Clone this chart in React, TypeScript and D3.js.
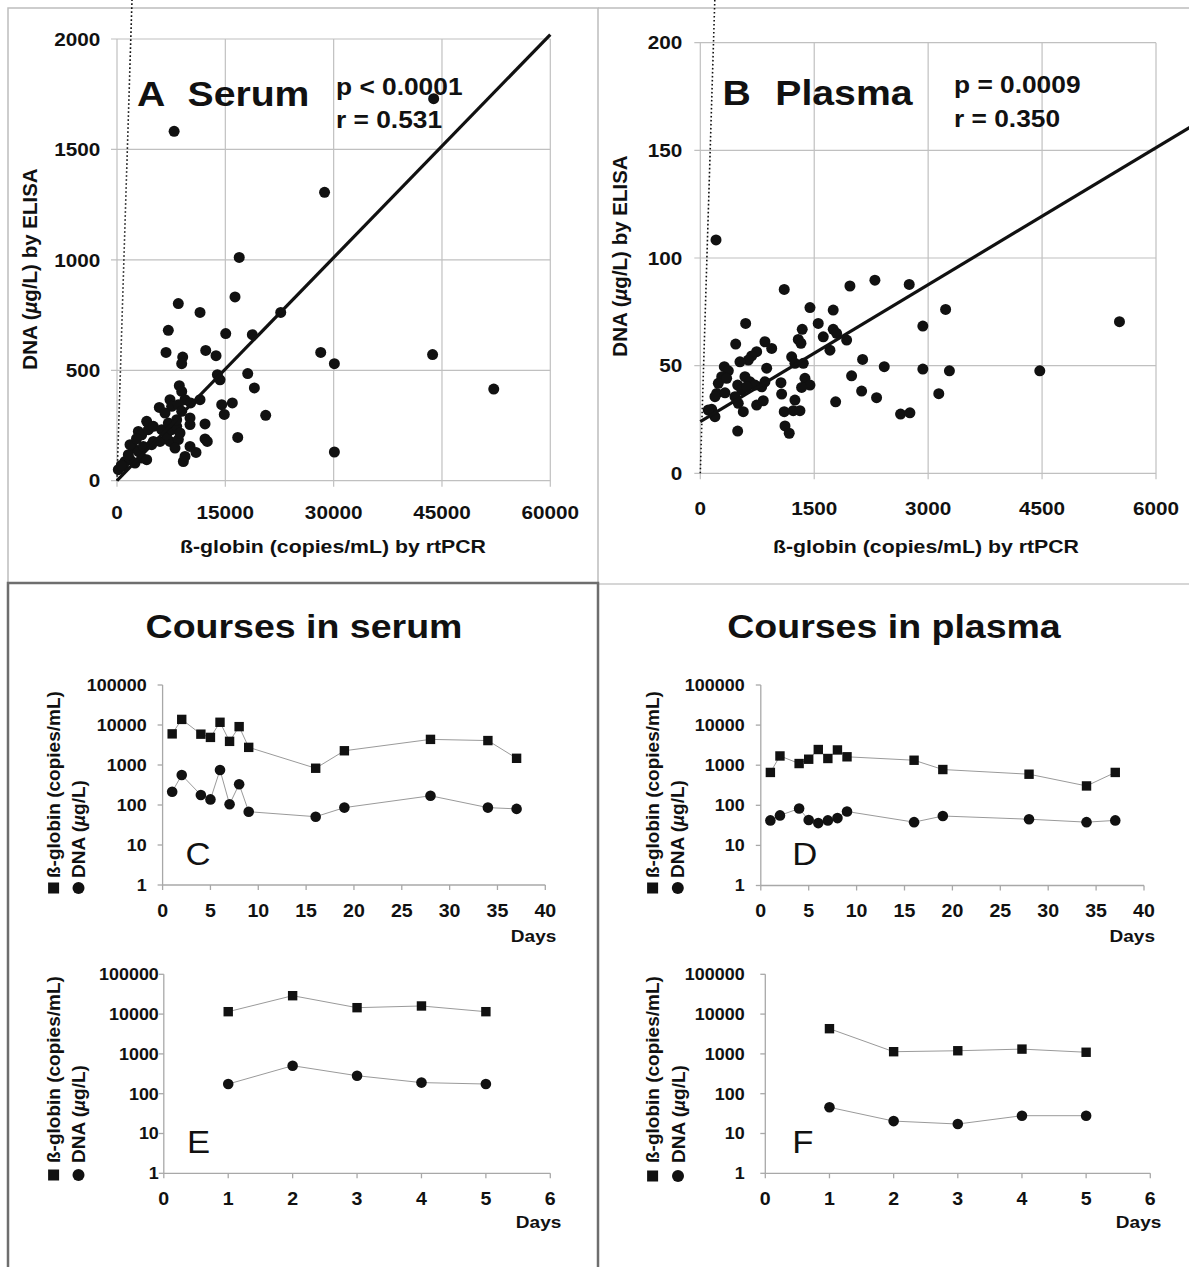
import React from 'react';
import * as d3 from 'd3';

const FONT = "'Liberation Sans', Arial, Helvetica, sans-serif";

// ---------- Panel A (serum scatter) ----------
const serumGlobin = [
  7910, 28740, 16925, 43850, 43700, 52170, 30100, 28212, 30100,
  16343, 8490, 11496, 22672, 7105, 15055, 18740, 6787, 12285, 13712, 9100, 8960,
  13900, 14265, 18100, 19020, 8630, 8960, 5860, 7340, 7570, 9418, 10200, 11496,
  14500, 15970, 14860, 20590, 10110, 12190, 10110, 16720, 12190, 12500,
  9185, 9418, 10940, 10110,
  184, 1108, 1800, 2493, 3417, 4110, 2262, 2955, 3647, 4802, 5956, 7340, 8494,
  2955, 3417, 4340, 4110, 5033, 6187, 6880, 7572, 8263, 8726, 1570, 877, 6648,
  8494, 8957, 5033, 1800, 8033, 7110, 8263, 600, 2700
];
const serumDna = [
  1582, 1306, 1011, 1730, 571, 415, 130, 581, 530,
  832, 802, 762, 762, 681, 666, 661, 581, 590, 566, 560, 530,
  480, 457, 485, 420, 430, 404, 332, 367, 337, 367, 352, 367,
  344, 352, 300, 296, 284, 257, 254, 196, 189, 178,
  87, 110, 128, 155,
  50, 87, 95, 80, 103, 95, 148, 133, 155, 163, 178, 178, 186,
  223, 208, 231, 269, 246, 231, 208, 231, 246, 216, 118, 65, 306,
  344, 314, 178, 163, 148, 261, 276, 70, 190
];
const serumFit = [0, 0.03367]; // intercept, slope
const serumFitRange = [0, 60000];
const serumRefLine = [[0, 0], [2080, 2180]];
const serumXTicks = [0, 15000, 30000, 45000, 60000];
const serumYTicks = [0, 500, 1000, 1500, 2000];

// ---------- Panel B (plasma scatter) ----------
const plasmaGlobin = [
  1105, 1970, 2299, 2751, 3230, 2930, 1444, 1750, 597, 1553, 1342, 1290, 1325,
  1750, 1619, 1707, 1795, 1927, 466, 851, 940, 742, 676, 632, 522, 1203, 1246,
  1356, 2137, 2422, 2930, 3280, 316, 369, 282, 237, 347, 588, 654, 720, 808,
  851, 874, 492, 545, 611, 216, 193, 325, 1062, 1378, 1444, 1334, 1992, 2124,
  2321, 3140, 1071, 1246, 1782, 457, 500, 566, 742, 829, 1105, 1224, 1312,
  2637, 2760, 150, 193, 105, 492, 1115, 1171, 207, 5519, 4470
];
const plasmaDna = [
  85.4, 87, 89.7, 87.7, 76.1, 68.4, 77, 75.8, 69.6, 69.6, 66.9, 62.2, 60.4,
  66.9, 63.4, 57.2, 65, 61.9, 60, 61.1, 58, 56.5, 54.5, 52.6, 51.8, 54.1, 51.1,
  51.1, 52.9, 49.5, 48.4, 47.6, 49.5, 47.6, 44.9, 41.8, 44.1, 44.9, 42.5, 41, 40.2,
  42.5, 48.8, 41, 38.7, 40.2, 37.1, 35.6, 37.4, 42.1, 44.1, 41, 39.9, 45.3, 38.2,
  35.1, 37, 36.8, 34, 33.2, 35.6, 32.5, 28.6, 31.7, 33.7, 28.6, 29.1, 29.1,
  27.5, 28.1, 29.7, 26.3, 29.4, 19.6, 22, 18.6, 108.4, 70.4, 47.6
];
const plasmaFit = [24, 0.0212];
const plasmaFitRange = [0, 6700];
const plasmaRefLine = [[0, 0], [191, 220]];
const plasmaXTicks = [0, 1500, 3000, 4500, 6000];
const plasmaYTicks = [0, 50, 100, 150, 200];

// ---------- Panels C-F (courses) ----------
const longDays = [1, 2, 4, 5, 6, 7, 8, 9, 16, 19, 28, 34, 37];
const globinC = [6000, 13800, 5900, 4900, 11700, 3900, 9100, 2760, 830, 2270, 4370, 4080, 1470];
const dnaC = [215, 560, 178, 138, 750, 104, 330, 68, 51, 86, 170, 86, 80];
const globinD = [660, 1700, 1100, 1410, 2460, 1470, 2400, 1620, 1330, 780, 596, 304, 660];
const dnaD = [42, 56, 83, 43, 36, 42, 48, 70, 38, 54, 45, 38, 42];
const shortDays = [1, 2, 3, 4, 5];
const globinE = [11500, 29000, 14500, 16000, 11500];
const dnaE = [175, 505, 283, 190, 175];
const globinF = [4300, 1135, 1200, 1320, 1100];
const dnaF = [45.5, 20.5, 17.3, 28, 28];
const logTicks = [1, 10, 100, 1000, 10000, 100000];
const longDayTicks = [0, 5, 10, 15, 20, 25, 30, 35, 40];
const shortDayTicks = [0, 1, 2, 3, 4, 5, 6];

const SX = 1.12;

function T({ x, y, size, anchor = 'start', weight = 'bold', sx = SX, children, fill = '#111' }: any) {
  return (
    <text
      transform={`translate(${x},${y}) scale(${sx},1)`}
      fontSize={size}
      fontWeight={weight}
      textAnchor={anchor}
      fontFamily={FONT}
      fill={fill}
    >
      {children}
    </text>
  );
}

function VT({ x, y, size, anchor = 'start', children }: any) {
  return (
    <text
      transform={`translate(${x},${y}) rotate(-90)`}
      fontSize={size}
      fontWeight="bold"
      textAnchor={anchor}
      fontFamily={FONT}
      dy="0.35em"
      fill="#111"
    >
      {children}
    </text>
  );
}

function Scatter({ xs, ys, xDom, xRange, yDom, yRange, xTicks, yTicks, fit, fitRange, refLine,
  yLabelRight, xLabelBase, titleX, yTitleX, yTitleY, panel, name, nameX, pText, rText, pX, pBase, rBase, letterX, letterBase }: any) {
  const x = d3.scaleLinear().domain(xDom).range(xRange);
  const y = d3.scaleLinear().domain(yDom).range(yRange);
  const grid = '#c0c0c0';
  const fitLine = d3.line<number>().x((d) => x(d)).y((d) => y(fit[0] + fit[1] * d));
  const refL = d3.line<number[]>().x((d) => x(d[0])).y((d) => y(d[1]));
  return (
    <g>
      {yTicks.map((t: number) => (
        <line key={'h' + t} x1={xRange[0] - 6} x2={xRange[1]} y1={y(t)} y2={y(t)} stroke={grid} strokeWidth={1.2} />
      ))}
      {xTicks.map((t: number) => (
        <line key={'v' + t} x1={x(t)} x2={x(t)} y1={yRange[1]} y2={yRange[0] + 6} stroke={grid} strokeWidth={1.2} />
      ))}
      {yTicks.map((t: number) => (
        <T key={'yl' + t} x={yLabelRight} y={y(t) + 6.7} size={18.5} anchor="end">{t}</T>
      ))}
      {xTicks.map((t: number) => (
        <T key={'xl' + t} x={x(t)} y={xLabelBase} size={18.5} anchor="middle">{t}</T>
      ))}
      <T x={titleX} y={553} size={19} anchor="middle">ß-globin (copies/mL) by rtPCR</T>
      <VT x={yTitleX} y={yTitleY} size={20.5} anchor="middle">
        DNA (<tspan fontStyle="italic">µ</tspan>g/L) by ELISA
      </VT>
      <path d={refL(refLine) || ''} stroke="#111" strokeWidth={1.6} strokeDasharray="1.6,2.4" fill="none" />
      {xs.map((v: number, i: number) => (
        <circle key={i} cx={x(v)} cy={y(ys[i])} r={5.5} fill="#111" />
      ))}
      <path d={fitLine(fitRange) || ''} stroke="#111" strokeWidth={3.2} fill="none" />
      <T x={letterX} y={letterBase} size={35}>{panel}</T>
      <T x={nameX} y={letterBase} size={35}>{name}</T>
      <T x={pX} y={pBase} size={23.5}>{pText}</T>
      <T x={pX} y={rBase} size={23.5}>{rText}</T>
    </g>
  );
}

function Course({ days, globin, dna, xDom, xRange, yRange, dayTicks, yLabelRight, xLabelBase, daysBase, letter, letterX, letterBase, colSq, colCi, markerY, textStart }: any) {
  const x = d3.scaleLinear().domain(xDom).range(xRange);
  const y = d3.scaleLog().domain([1, 100000]).range(yRange);
  const axis = '#a8a8a8';
  const ln = d3.line<number>().x((d, i) => x(days[i])).y((d) => y(d));
  return (
    <g>
      <line x1={xRange[0]} x2={xRange[0]} y1={yRange[1]} y2={yRange[0]} stroke={axis} strokeWidth={1.3} />
      <line x1={xRange[0]} x2={xRange[1]} y1={yRange[0]} y2={yRange[0]} stroke={axis} strokeWidth={1.3} />
      {logTicks.map((t) => (
        <line key={'yt' + t} x1={xRange[0] - 5} x2={xRange[0]} y1={y(t)} y2={y(t)} stroke={axis} strokeWidth={1.3} />
      ))}
      {dayTicks.map((t: number) => (
        <line key={'xt' + t} x1={x(t)} x2={x(t)} y1={yRange[0]} y2={yRange[0] + 5} stroke={axis} strokeWidth={1.3} />
      ))}
      {logTicks.map((t) => (
        <T key={'yl' + t} x={yLabelRight} y={y(t) + 5.8} size={16} anchor="end">{t}</T>
      ))}
      {dayTicks.map((t: number) => (
        <T key={'xl' + t} x={x(t)} y={xLabelBase} size={17.5} anchor="middle">{t}</T>
      ))}
      <T x={xRange[1] + 11} y={daysBase} size={17} anchor="end">Days</T>
      <T x={letterX} y={letterBase} size={31} weight="normal" anchor="middle">{letter}</T>
      <path d={ln(globin) || ''} stroke="#9a9a9a" strokeWidth={1} fill="none" />
      <path d={ln(dna) || ''} stroke="#9a9a9a" strokeWidth={1} fill="none" />
      {globin.map((v: number, i: number) => (
        <rect key={'s' + i} x={x(days[i]) - 4.7} y={y(v) - 4.7} width={9.4} height={9.4} fill="#111" />
      ))}
      {dna.map((v: number, i: number) => (
        <circle key={'c' + i} cx={x(days[i])} cy={y(v)} r={5.3} fill="#111" />
      ))}
      <rect x={colSq - 5.5} y={markerY - 5.5} width={11} height={11} fill="#111" />
      <circle cx={colCi} cy={markerY} r={6} fill="#111" />
      <VT x={colSq} y={textStart} size={19}>ß-globin (copies/mL)</VT>
      <VT x={colCi} y={textStart} size={19}>
        DNA (<tspan fontStyle="italic">µ</tspan>g/L)
      </VT>
    </g>
  );
}

export default function App() {
  return (
    <svg width={1189} height={1267} style={{ position: 'absolute', left: 0, top: 0, display: 'block', background: '#fff' }}>
      <rect x={0} y={0} width={1189} height={1267} fill="#fff" />
      {/* frames */}
      <rect x={8} y={8} width={590} height={575} fill="none" stroke="#bdbdbd" strokeWidth={1.5} />
      <line x1={598} x2={1189} y1={8} y2={8} stroke="#bdbdbd" strokeWidth={1.5} />
      <line x1={598} x2={1189} y1={584} y2={584} stroke="#c8c8c8" strokeWidth={1.5} />
      <rect x={8} y={583} width={590} height={700} fill="none" stroke="#6e6e6e" strokeWidth={2.5} />

      <Scatter xs={serumGlobin} ys={serumDna} xDom={[0, 60000]} xRange={[117, 550.3]} yDom={[0, 2000]} yRange={[480.7, 39]}
        xTicks={serumXTicks} yTicks={serumYTicks} fit={serumFit} fitRange={serumFitRange} refLine={serumRefLine}
        yLabelRight={100.3} xLabelBase={519} titleX={333} yTitleX={30} yTitleY={269}
        panel="A" name="Serum" letterX={137} nameX={187.5} letterBase={106}
        pText="p < 0.0001" rText="r = 0.531" pX={336} pBase={95} rBase={128} />
      <Scatter xs={plasmaGlobin} ys={plasmaDna} xDom={[0, 6000]} xRange={[700.3, 1156]} yDom={[0, 200]} yRange={[473.3, 42.7]}
        xTicks={plasmaXTicks} yTicks={plasmaYTicks} fit={plasmaFit} fitRange={plasmaFitRange} refLine={plasmaRefLine}
        yLabelRight={682.3} xLabelBase={515} titleX={926} yTitleX={620} yTitleY={256}
        panel="B" name="Plasma" letterX={722.5} nameX={775.3} letterBase={105}
        pText="p = 0.0009" rText="r = 0.350" pX={954} pBase={93} rBase={126.7} />

      <T x={304} y={638} size={33.5} anchor="middle">Courses in serum</T>
      <T x={894} y={638} size={33.5} anchor="middle">Courses in plasma</T>

      <Course days={longDays} globin={globinC} dna={dnaC} xDom={[0, 40]} xRange={[162.6, 545.3]} yRange={[885, 685]}
        dayTicks={longDayTicks} yLabelRight={146.6} xLabelBase={917.3} daysBase={941.7}
        letter="C" letterX={198} letterBase={865} colSq={53.6} colCi={78.5} markerY={888} textStart={878} />
      <Course days={longDays} globin={globinD} dna={dnaD} xDom={[0, 40]} xRange={[760.8, 1144]} yRange={[885.5, 685]}
        dayTicks={longDayTicks} yLabelRight={744.6} xLabelBase={917.3} daysBase={941.7}
        letter="D" letterX={804.7} letterBase={865} colSq={652.6} colCi={677.8} markerY={888} textStart={878} />
      <Course days={shortDays} globin={globinE} dna={dnaE} xDom={[0, 6]} xRange={[163.8, 550.3]} yRange={[1173.3, 974.3]}
        dayTicks={shortDayTicks} yLabelRight={158.8} xLabelBase={1205} daysBase={1228}
        letter="E" letterX={198.6} letterBase={1153} colSq={53.6} colCi={78.5} markerY={1175} textStart={1163} />
      <Course days={shortDays} globin={globinF} dna={dnaF} xDom={[0, 6]} xRange={[765.3, 1150.3]} yRange={[1173.3, 974.3]}
        dayTicks={shortDayTicks} yLabelRight={744.6} xLabelBase={1205} daysBase={1228.3}
        letter="F" letterX={802.9} letterBase={1153} colSq={652.6} colCi={678} markerY={1176} textStart={1163} />
    </svg>
  );
}
